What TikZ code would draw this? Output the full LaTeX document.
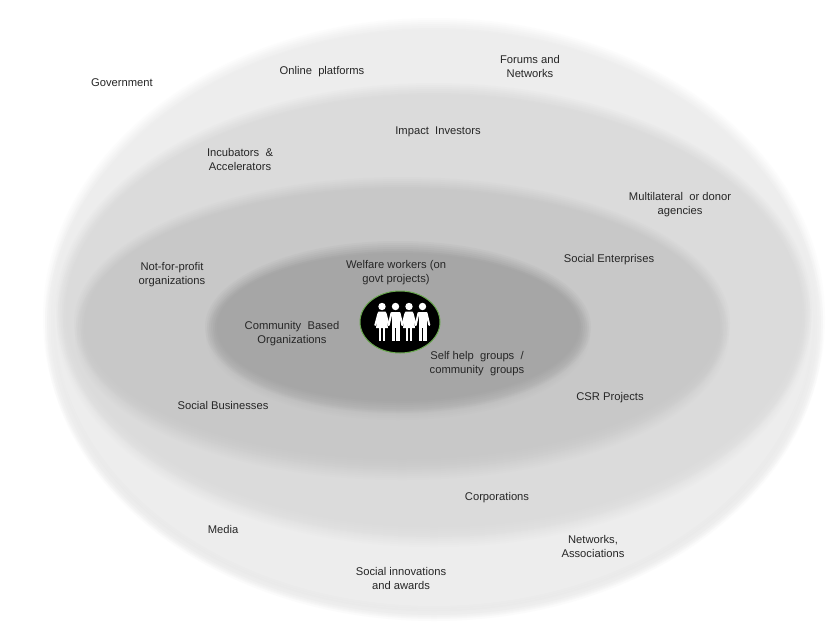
\documentclass[tikz,border=0pt]{standalone}
\usepackage{fontspec}
\setmainfont{Liberation Sans}
\usetikzlibrary{shapes.geometric}
\definecolor{ringA}{HTML}{EDEDED}
\definecolor{ringB}{HTML}{DBDBDB}
\definecolor{ringC}{HTML}{C8C8C8}
\definecolor{ringD}{HTML}{A6A6A6}
\definecolor{shadA}{HTML}{E6E6E6}
\definecolor{shadB}{HTML}{E1E1E1}
\definecolor{shadC}{HTML}{CFCFCF}
\definecolor{shadD}{HTML}{BBBBBB}
\definecolor{iconrim}{HTML}{6AA84F}
\newcommand\softell[5]{%
  \foreach \d/\o in {7/0.143,5/0.167,3/0.2,1/0.25,-1/0.333,-3/0.5}{%
    \fill[#5,opacity=\o] (#1,#2) ellipse [x radius=#3+\d, y radius=#4+\d];}
  \fill[#5] (#1,#2) ellipse [x radius=#3-5, y radius=#4-5];}
\newcommand\femfig[1]{%
  \fill[white] (#1,306.5) circle (3.7);
  \fill[white] (#1-3.6,311.5) -- (#1+3.6,311.5) -- (#1+6,328) -- (#1-6,328) -- cycle;
  \fill[white] (#1-3.2,328) rectangle (#1-1,340.5);
  \fill[white] (#1+1,328) rectangle (#1+3.2,340.5);
  \draw[white,line width=2pt,line cap=round] (#1-3.4,313) -- (#1-6.7,325);
  \draw[white,line width=2pt,line cap=round] (#1+3.4,313) -- (#1+6.7,325);}
\newcommand\malfig[1]{%
  \fill[white] (#1,306.5) circle (3.7);
  \fill[white] (#1-4,311.5) rectangle (#1+4,327.5);
  \fill[white] (#1-4,327) rectangle (#1-0.6,341);
  \fill[white] (#1+0.6,327) rectangle (#1+4,341);
  \draw[white,line width=2pt,line cap=round] (#1-4,313) -- (#1-6.8,325);
  \draw[white,line width=2pt,line cap=round] (#1+4,313) -- (#1+6.8,325);}
\begin{document}
\begin{tikzpicture}[x=1pt,y=-1pt,
  lbl/.style={font=\fontsize{11.2}{14}\selectfont, align=center, text=black!85, inner sep=0pt}]
\useasboundingbox (0,0) rectangle (840,630);
\fill[white] (0,0) rectangle (840,630);
% outer ring
\softell{434}{326}{382}{288}{shadA}
\softell{434}{318}{384}{293}{ringA}
% second ring
\softell{434}{321}{370}{219}{shadB}
\softell{434}{310}{371}{220}{ringB}
% third ring
\softell{402}{335}{320}{138}{shadC}
\softell{402}{323}{321}{139}{ringC}
% inner ring
\softell{398}{336}{185}{77}{shadD}
\softell{398}{327}{186}{79}{ringD}
% icon
\node[draw=iconrim, line width=1pt, fill=black, ellipse, minimum width=80pt, minimum height=62pt, inner sep=0pt] (icon) at (400,322) {};
\femfig{382}
\malfig{395.5}
\femfig{409}
\malfig{422.5}
% labels
\node[lbl] (gov) at (122,83) {Government};
\node[lbl] (onl) at (322,72) {Online\ \ platforms};
\node[lbl] (for) at (530,66) {Forums and\\Networks};
\node[lbl] (imp) at (438,132) {Impact\ \ Investors};
\node[lbl] (inc) at (240,159) {Incubators\ \ \&\\Accelerators};
\node[lbl] (mul) at (680,205) {Multilateral\ \ or donor\\agencies};
\node[lbl] (sen) at (609,260) {Social Enterprises};
\node[lbl] (nfp) at (172,275) {Not-for-profit\\organizations};
\node[lbl] (wel) at (396,273) {Welfare workers (on\\govt projects)};
\node[lbl] (cbo) at (292,334) {Community\ \ Based\\Organizations};
\node[lbl] (shg) at (477,364) {Self help\ \ groups\ \ /\\community\ \ groups};
\node[lbl] (csr) at (610,398) {CSR Projects};
\node[lbl] (sbu) at (223,405) {Social Businesses};
\node[lbl] (cor) at (497,498) {Corporations};
\node[lbl] (med) at (223,529) {Media};
\node[lbl] (net) at (593,546) {Networks,\\Associations};
\node[lbl] (soc) at (401,578) {Social innovations\\and awards};
\end{tikzpicture}
\end{document}
